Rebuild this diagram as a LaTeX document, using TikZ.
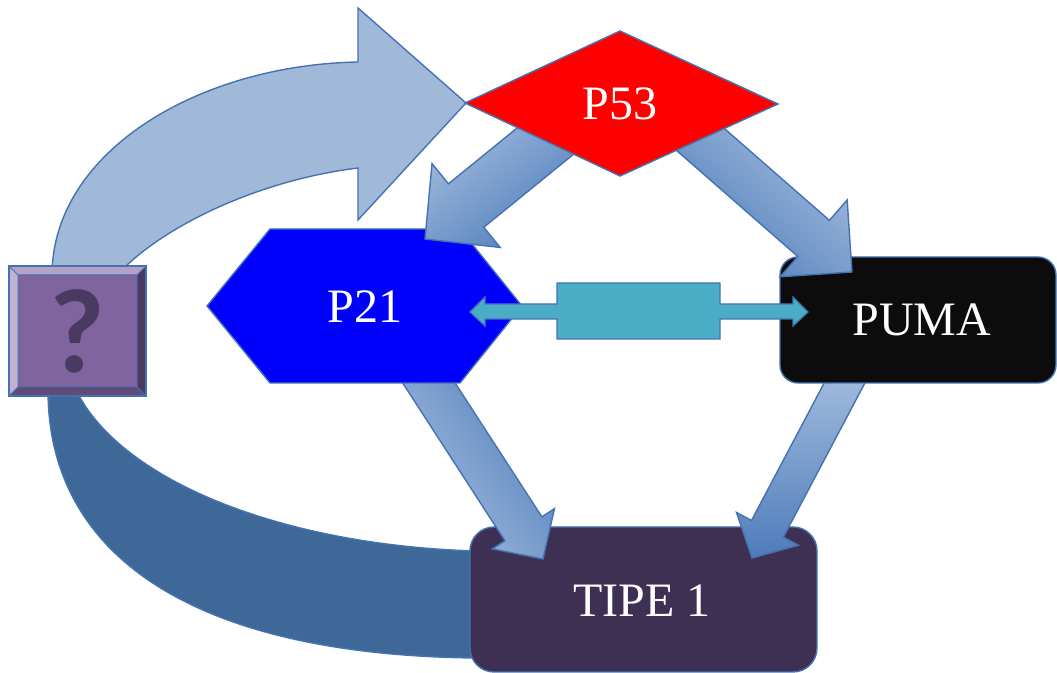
\documentclass[tikz,border=0pt]{standalone}
\usepackage{fontspec}
\setmainfont{Liberation Serif}
\newfontfamily\qfont{Carlito}
\usetikzlibrary{calc}

\definecolor{edgeblue}{RGB}{68,114,178}
\definecolor{arrowlight}{RGB}{168,192,224}
\definecolor{arrowdark}{RGB}{78,124,186}
\definecolor{bandtop}{RGB}{160,185,216}
\definecolor{bandlow}{RGB}{62,104,152}
\definecolor{tealbar}{RGB}{75,172,198}
\definecolor{tipebox}{RGB}{62,48,82}
\definecolor{pumabox}{RGB}{12,12,12}
\definecolor{qface}{RGB}{128,100,160}
\definecolor{qmark}{RGB}{74,58,98}

\tikzset{
  shape edge/.style={draw=edgeblue, line width=0.7pt},
  arrow body/.style={draw=edgeblue, line width=0.7pt},
  label text/.style={text=white, font=\fontsize{24}{28}\selectfont, inner sep=0pt},
}

% block arrow: [shading] tail, tip, half shaft, half head, head length
\newcommand{\fatarrow}[6][]{%
  \coordinate (hb) at ($(#3)!#6!(#2)$);
  \shade[arrow body,#1] ($(#2)!#4!90:(#3)$) -- ($(hb)!#4!90:(#3)$) -- ($(hb)!#5!90:(#3)$) -- (#3)
    -- ($(hb)!#5!-90:(#3)$) -- ($(hb)!#4!-90:(#3)$) -- ($(#2)!#4!-90:(#3)$) -- cycle;
}

\begin{document}
\begin{tikzpicture}[x=0.5pt,y=-0.5pt]
\useasboundingbox (0,0) rectangle (1057,673);

% Arrow ends
\coordinate (p53-sw) at (575,117);
\coordinate (p21-ne) at (425,239);
\coordinate (p53-se) at (685,126);
\coordinate (puma-nw) at (852,272);
\coordinate (p21-s) at (414,360);
\coordinate (tipe-nw) at (543,559);
\coordinate (puma-s) at (853,367);
\coordinate (tipe-ne) at (752,558);

% Curved bands
\filldraw[fill=bandlow, draw=edgeblue, line width=0.7pt]
  (48,390) .. controls (48,560) and (200,655) .. (475,658) -- (475,551)
  .. controls (280,545) and (120,480) .. (76,390) -- cycle;
\filldraw[fill=bandtop, draw=edgeblue, line width=0.7pt]
  (52,272) .. controls (55,150) and (200,65) .. (358,62) -- (358,8) -- (466,103)
  -- (358,220) -- (358,168) .. controls (260,180) and (165,225) .. (120,272) -- cycle;

% TIPE 1
\filldraw[fill=tipebox, shape edge, rounded corners=12pt] (470,527) rectangle (817,672);

% Arrows into TIPE 1
\fatarrow[left color=arrowlight, right color=arrowdark, shading angle=123]{p21-s}{tipe-nw}{11pt}{18.5pt}{18pt}
\fatarrow[top color=arrowlight, bottom color=arrowdark]{puma-s}{tipe-ne}{9pt}{17.5pt}{16.5pt}

% P21 and PUMA
\filldraw[fill=blue, shape edge] (207,306) -- (270,229) -- (460,229) -- (522,306) -- (460,383) -- (270,383) -- cycle;
\filldraw[fill=pumabox, shape edge, rounded corners=9pt] (780,257) rectangle (1056,383);

% Double arrow
\filldraw[fill=tealbar, draw=edgeblue, line width=0.6pt]
  (470,312) -- (485,297) -- (485,304) -- (557,304) -- (557,283) -- (720,283) -- (720,304)
  -- (793,304) -- (793,297) -- (808,312) -- (793,326) -- (793,319) -- (720,319) -- (720,339)
  -- (557,339) -- (557,319) -- (485,319) -- (485,326) -- cycle;

% Arrows out of P53
\fatarrow[left color=arrowlight, right color=arrowdark, shading angle=38]{p53-sw}{p21-ne}{14pt}{27pt}{26.5pt}
\fatarrow[left color=arrowlight, right color=arrowdark, shading angle=-41]{p53-se}{puma-nw}{12pt}{25.5pt}{25.5pt}

% P53
\filldraw[fill=red, shape edge] (465,103) -- (620,31) -- (778,104) -- (620,176) -- cycle;

% Question box
\fill[qface] (9,266) rectangle (146,396);
\fill[qface!60!white] (9,266) -- (146,266) -- (137,275) -- (18,275) -- cycle;
\fill[qface!50!white] (9,266) -- (18,275) -- (18,387) -- (9,396) -- cycle;
\fill[qmark] (146,266) -- (146,396) -- (137,387) -- (137,275) -- cycle;
\fill[qface!75!black] (9,396) -- (146,396) -- (137,387) -- (18,387) -- cycle;
\draw[edgeblue, line width=0.5pt] (9,266) -- (18,275) (146,266) -- (137,275)
  (146,396) -- (137,387) (9,396) -- (18,387) (18,275) rectangle (137,387);
\draw[shape edge] (9,266) rectangle (146,396);

% Labels
\node[label text] (p53) at (620,104) {P53};
\node[label text] (p21) at (365,307) {P21};
\node[label text] (puma) at (922,320) {PUMA};
\node[label text] (tipe) at (642,601) {TIPE 1};
\node[text=qmark, font=\qfont\bfseries\fontsize{60}{62}\selectfont, inner sep=0pt] (qbox) at (77,331) {?};

\end{tikzpicture}
\end{document}
